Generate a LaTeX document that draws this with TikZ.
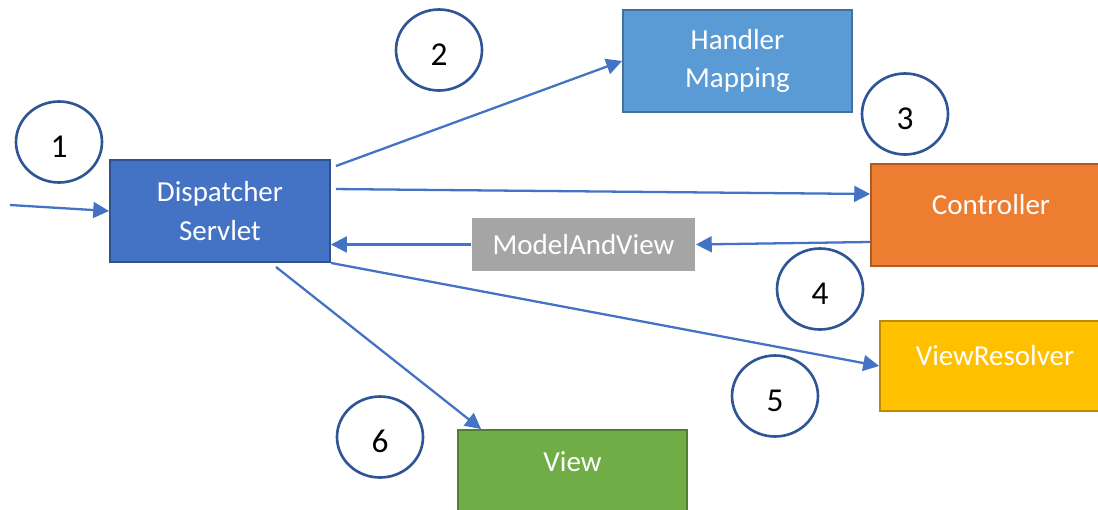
\documentclass[tikz,border=0pt]{standalone}
\usepackage{fontspec}
\setmainfont{Carlito}
\usepackage{xcolor}
\definecolor{DispBlue}    {RGB}{68, 114, 196}
\definecolor{DispLine}    {RGB}{47,  82, 143}
\definecolor{MapBlue}     {RGB}{91, 155, 213}
\definecolor{MapLine}     {RGB}{65, 113, 156}
\definecolor{CtrlOrange}  {RGB}{237,125,  49}
\definecolor{CtrlLine}    {RGB}{174, 90,  33}
\definecolor{MavGray}     {RGB}{165,165, 165}
\definecolor{ResGold}     {RGB}{255,192,   0}
\definecolor{ResLine}     {RGB}{188,140,   0}
\definecolor{ViewGreen}   {RGB}{112,173,  71}
\definecolor{ViewLine}    {RGB}{80, 126,  50}
\definecolor{StepLine}    {RGB}{47,  85, 151}
\usetikzlibrary{
  shapes.geometric,
  arrows.meta,
  calc
}

\begin{document}
\begin{tikzpicture}[
  x=0.02cm, y=-0.02cm,
  font=\fontsize{16.5}{22}\selectfont,
  block/.style={
    line width=1.1pt, text=white,
    align=center, inner sep=0pt
  },
  upper/.style={text depth=0.44cm},
  stepnum/.style={
    ellipse, draw=StepLine, fill=white,
    line width=1.5pt, text=black,
    minimum width=1.72cm,
    minimum height=1.62cm,
    inner sep=0pt, text height=0.62cm,
    font=\fontsize{19}{22}\selectfont
  },
  arrow/.style={
    -{Triangle[length=9pt, width=9pt]},
    line width=1.3pt, DispBlue}
]
\clip (0,0) rectangle (1098,510);
\fill[white] (0,0) rectangle (1098,510);

\node[block, draw=DispLine, fill=DispBlue,
  minimum width=4.4cm, minimum height=2.04cm]
  (disp) at (220,211) {Dispatcher\\Servlet};
\node[block, draw=MapLine, fill=MapBlue,
  minimum width=4.58cm, minimum height=2.04cm]
  (hm) at (737.5,61) {Handler\\Mapping};
\node[block, upper, draw=CtrlLine, fill=CtrlOrange,
  minimum width=4.8cm, minimum height=2.04cm]
  (ctrl) at (991,215) {Controller};
\node[block, fill=MavGray,
  minimum width=4.46cm, minimum height=1.06cm]
  (mav) at (583.5,244.5) {ModelAndView};
\node[block, upper, draw=ResLine, fill=ResGold,
  minimum width=4.6cm, minimum height=1.8cm]
  (vr) at (995,366) {ViewResolver};
\node[block, upper, draw=ViewLine, fill=ViewGreen,
  minimum width=4.58cm, minimum height=1.72cm]
  (view) at (572.5,473) {View};

\node[stepnum] (s1) at (59,142)  {1};
\node[stepnum] (s2) at (439,50)  {2};
\node[stepnum] (s3) at (905,114) {3};
\node[stepnum] (s4) at (820,289) {4};
\node[stepnum] (s5) at (775,396) {5};
\node[stepnum] (s6) at (380,437) {6};

\coordinate (src) at (10,205);

\draw[arrow] (src) -- (disp.west);
\draw[arrow] ($(disp.north east)+(5,7)$) -- (hm.west);
\draw[arrow] ($(disp.north east)+(5,30)$)
  -- ($(ctrl.west)+(0,-21)$);
\draw[arrow] ($(ctrl.west)+(0,27)$) -- (mav.east);
\draw[arrow] (mav.west) -- (mav.west -| disp.east);
\draw[arrow] (disp.south east) -- (vr.west);
\draw[arrow] ($(disp.south)+(56,4)$)
  -- ($(view.north west)+(24,0)$);

\end{tikzpicture}
\end{document}
